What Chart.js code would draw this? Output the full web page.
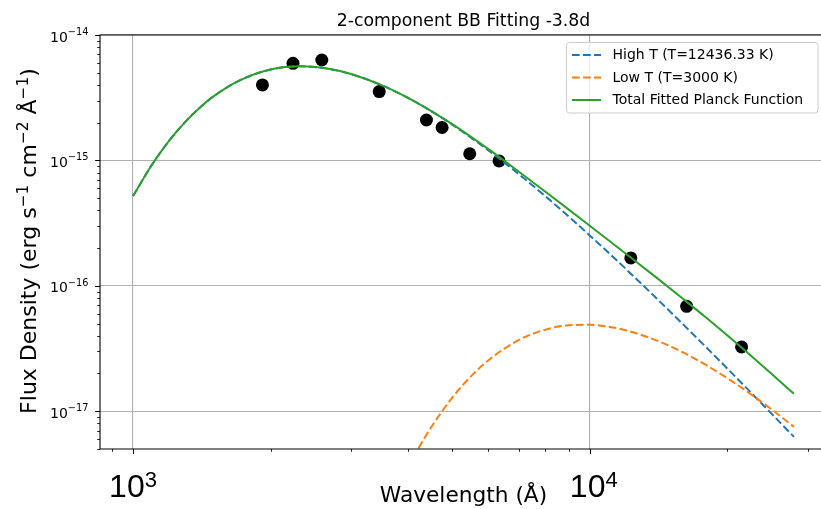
<!DOCTYPE html>
<html>
<head>
<meta charset="utf-8">
<script src="https://cdn.jsdelivr.net/npm/chart.js@4.4.1/dist/chart.umd.min.js"></script>
<style>
  html, body { margin: 0; padding: 0; background: #fff; overflow: hidden; }
  #wrap { width: 821px; height: 509px; overflow: hidden; }
  #c { display: block; }
</style>
</head>
<body>
<div id="wrap"><canvas id="c" width="850" height="509"></canvas></div>
<script>
// ---------------- data ----------------
const chartTitle = "2-component BB Fitting -3.8d";
const xAxisTitle = "Wavelength (Å)";
const yAxisTitleParts = [["Flux Density (erg s", ""], ["−1", "sup"], [" cm", ""], ["−2", "sup"], [" Å", ""], ["−1", "sup"], [")", ""]];

const highLabel = "High T (T=12436.33 K)";
const lowLabel = "Low T (T=3000 K)";
const totalLabel = "Total Fitted Planck Function";

// observed photometry
const obsWavelength = [1920, 2240, 2590, 3460, 4390, 4750, 5460, 6330, 12300, 16300, 21500];
const obsFlux = [4.0e-15, 5.95e-15, 6.32e-15, 3.54e-15, 2.10e-15, 1.83e-15, 1.13e-15, 9.9e-16, 1.67e-16, 6.87e-17, 3.26e-17];

// curve samples (wavelength, Å)
const curveWavelength = [1000, 1100, 1200, 1300, 1400, 1500, 1700, 2000, 2330, 2700, 3000, 3500, 4000, 4500, 5000, 6000, 7000, 8000, 9000, 10000, 12000, 14000, 16000, 18000, 20000, 22000, 25000, 28000];
const highTFlux = [5.20e-16, 9.24e-16, 1.437e-15, 2.021e-15, 2.635e-15, 3.238e-15, 4.295e-15, 5.30e-15, 5.624e-15, 5.353e-15, 4.888e-15, 3.986e-15, 3.152e-15, 2.467e-15, 1.931e-15, 1.203e-15, 7.75e-16, 5.17e-16, 3.56e-16, 2.523e-16, 1.362e-16, 7.96e-17, 4.94e-17, 3.228e-17, 2.194e-17, 1.542e-17, 9.57e-18, 6.25e-18];
const totalFlux = [5.20e-16, 9.24e-16, 1.437e-15, 2.021e-15, 2.635e-15, 3.238e-15, 4.295e-15, 5.30e-15, 5.624e-15, 5.353e-15, 4.888e-15, 3.987e-15, 3.156e-15, 2.475e-15, 1.944e-15, 1.229e-15, 8.12e-16, 5.62e-16, 4.05e-16, 3.01e-16, 1.804e-16, 1.163e-16, 7.88e-17, 5.56e-17, 4.03e-17, 2.99e-17, 1.99e-17, 1.376e-17];

const lowWavelength = [4000, 4200, 4500, 5000, 5500, 6000, 7000, 8000, 9000, 10000, 11000, 12000, 14000, 16000, 18000, 20000, 22000, 25000, 28000];
const lowTFlux = [3.56e-18, 4.94e-18, 7.49e-18, 1.284e-17, 1.907e-17, 2.554e-17, 3.704e-17, 4.477e-17, 4.849e-17, 4.895e-17, 4.722e-17, 4.42e-17, 3.674e-17, 2.944e-17, 2.328e-17, 1.836e-17, 1.453e-17, 1.036e-17, 7.51e-18];

// axes
const xMin = 846.6, xMax = 33074;
const yMin = 5e-18, yMax = 1e-14;
const xTickValues = [1000, 10000];
const xTickExponents = ["3", "4"];
const xMinorTicks = [900, 2000, 3000, 4000, 5000, 6000, 7000, 8000, 9000, 20000, 30000];
const yTickValues = [1e-17, 1e-16, 1e-15, 1e-14];
const yTickExponents = ["−17", "−16", "−15", "−14"];
const yMinorMultipliers = [2, 3, 4, 5, 6, 7, 8, 9];
const yMinorDecades = [-18, -17, -16, -15];

// ---------------- chart ----------------
const pts = (xs, ys) => xs.map((x, i) => ({ x: x, y: ys[i] }));
const DASH = [7.7, 3.3];
const FONT = "'DejaVu Sans', sans-serif";
const AREA = { left: 100, top: 35, right: 827, bottom: 449 };

function drawPow(ctx, cx, align, baseY, expY, baseFont, expFont, exp) {
  ctx.font = baseFont;
  const wb = ctx.measureText("10").width;
  ctx.font = expFont;
  const we = ctx.measureText(exp).width;
  const total = wb + we;
  let x0 = align === "right" ? cx - total : cx - total / 2;
  ctx.textAlign = "left";
  ctx.textBaseline = "alphabetic";
  ctx.font = baseFont;
  ctx.fillText("10", x0, baseY);
  ctx.font = expFont;
  ctx.fillText(exp, x0 + wb, expY);
}

const refPlugin = {
  id: "ref",
  afterDraw(chart) {
    const ctx = chart.ctx, a = chart.chartArea;
    const xs = chart.scales.x, ys = chart.scales.y;
    ctx.save();
    ctx.fillStyle = "#000";
    ctx.strokeStyle = "#000";

    // spines
    ctx.lineWidth = 1.1;
    ctx.beginPath();
    ctx.moveTo(a.right, a.top); ctx.lineTo(a.left, a.top);
    ctx.lineTo(a.left, a.bottom); ctx.lineTo(a.right, a.bottom);
    ctx.moveTo(a.right, a.top); ctx.lineTo(a.right, a.bottom);
    ctx.stroke();

    // major ticks
    ctx.beginPath();
    xTickValues.forEach(v => {
      const px = Math.round(xs.getPixelForValue(v)) + 0.5;
      ctx.moveTo(px, a.bottom); ctx.lineTo(px, a.bottom + 4.9);
    });
    yTickValues.forEach(v => {
      const py = Math.round(ys.getPixelForValue(v)) + 0.5;
      ctx.moveTo(a.left, py); ctx.lineTo(a.left - 4.9, py);
    });
    ctx.stroke();
    // minor ticks
    ctx.lineWidth = 0.85;
    ctx.beginPath();
    xMinorTicks.forEach(v => {
      if (v < xMin || v > xMax) return;
      const px = Math.round(xs.getPixelForValue(v)) + 0.5;
      ctx.moveTo(px, a.bottom); ctx.lineTo(px, a.bottom + 2.8);
    });
    yMinorDecades.forEach(n => yMinorMultipliers.forEach(k => {
      const v = k * Math.pow(10, n);
      if (v < yMin || v > yMax) return;
      const py = Math.round(ys.getPixelForValue(v)) + 0.5;
      ctx.moveTo(a.left, py); ctx.lineTo(a.left - 2.8, py);
    }));
    ctx.stroke();

    // y tick labels
    yTickValues.forEach((v, i) => {
      const py = ys.getPixelForValue(v);
      drawPow(ctx, a.left - 11.5, "right", py + 6.5, py - 0.3, "14px " + FONT, "9.8px " + FONT, yTickExponents[i]);
    });
    // x tick labels
    xTickValues.forEach((v, i) => {
      const px = xs.getPixelForValue(v);
      drawPow(ctx, px + (i === 1 ? 4 : 0), "center", 497, 486.5, "32px 'Liberation Sans', Arial, sans-serif", "22px 'Liberation Sans', Arial, sans-serif", xTickExponents[i]);
    });

    // title
    ctx.font = "17.3px " + FONT;
    ctx.textAlign = "center";
    ctx.textBaseline = "alphabetic";
    ctx.fillText(chartTitle, (a.left + a.right) / 2, 26);

    // x axis title
    ctx.font = "21.7px " + FONT;
    ctx.fillText(xAxisTitle, (a.left + a.right) / 2, 502);

    // y axis title (rotated, with superscripts)
    ctx.save();
    ctx.translate(35.5, (a.top + a.bottom) / 2 - 1);
    ctx.rotate(-Math.PI / 2);
    const big = "22px " + FONT, small = "15.4px " + FONT;
    let tw = 0;
    yAxisTitleParts.forEach(p => { ctx.font = p[1] ? small : big; tw += ctx.measureText(p[0]).width; });
    let x = -tw / 2;
    ctx.textAlign = "left";
    yAxisTitleParts.forEach(p => {
      ctx.font = p[1] ? small : big;
      ctx.fillText(p[0], x, p[1] ? -8 : 0);
      x += ctx.measureText(p[0]).width;
    });
    ctx.restore();

    // legend
    const lx = 566.5, ly = 42.5, lw = 251.5, lh = 70.5;
    ctx.beginPath();
    ctx.roundRect(lx, ly, lw, lh, 3);
    ctx.fillStyle = "rgba(255,255,255,0.8)";
    ctx.fill();
    ctx.strokeStyle = "#cccccc";
    ctx.lineWidth = 1;
    ctx.stroke();
    [0, 1, 2].forEach((di, r) => {
      const ds = chart.data.datasets[di];
      const cy = 55 + r * 22.5;
      ctx.save();
      ctx.strokeStyle = ds.borderColor;
      ctx.lineWidth = ds.borderWidth;
      ctx.setLineDash(ds.borderDash || []);
      ctx.beginPath();
      ctx.moveTo(572, cy); ctx.lineTo(601, cy);
      ctx.stroke();
      ctx.restore();
      ctx.fillStyle = "#000";
      ctx.font = "14px " + FONT;
      ctx.textAlign = "left";
      ctx.textBaseline = "middle";
      ctx.fillText(ds.label, 612.5, cy + 0.5);
    });
    ctx.restore();
  }
};

const chart = new Chart(document.getElementById("c"), {
  type: "scatter",
  data: {
    datasets: [
      { label: highLabel, data: pts(curveWavelength, highTFlux), showLine: true, borderColor: "#1f77b4", borderWidth: 2, borderDash: DASH, pointRadius: 0, cubicInterpolationMode: "monotone", order: 2 },
      { label: lowLabel, data: pts(lowWavelength, lowTFlux), showLine: true, borderColor: "#ff7f0e", borderWidth: 2, borderDash: DASH, pointRadius: 0, cubicInterpolationMode: "monotone", order: 1 },
      { label: totalLabel, data: pts(curveWavelength, totalFlux), showLine: true, borderColor: "#2ca02c", borderWidth: 2, pointRadius: 0, cubicInterpolationMode: "monotone", order: 0 },
      { label: "Data", data: pts(obsWavelength, obsFlux), showLine: false, pointRadius: 6.5, pointBackgroundColor: "#000", pointBorderColor: "#000", pointBorderWidth: 0, order: 3 }
    ]
  },
  options: {
    responsive: false,
    animation: false,
    devicePixelRatio: 1,
    layout: { padding: { left: 100, top: 35, right: 16, bottom: 60 } },
    plugins: { legend: { display: false }, tooltip: { enabled: false }, title: { display: false } },
    scales: {
      x: {
        type: "logarithmic", min: xMin, max: xMax,
        afterBuildTicks: s => { s.ticks = xTickValues.map(v => ({ value: v })); },
        ticks: { display: false },
        grid: { color: "#b0b0b0", lineWidth: 1.1, drawTicks: false },
        border: { display: false },
        title: { display: false }
      },
      y: {
        type: "logarithmic", min: yMin, max: yMax,
        afterBuildTicks: s => { s.ticks = yTickValues.map(v => ({ value: v })); },
        ticks: { display: false },
        grid: { color: "#b0b0b0", lineWidth: 1.1, drawTicks: false },
        border: { display: false },
        title: { display: false }
      }
    }
  },
  plugins: [refPlugin]
});

// make the plot area land exactly where the reference has it
const pad = chart.options.layout.padding;
const ca = chart.chartArea;
pad.left = Math.max(0, pad.left + (AREA.left - ca.left));
pad.top = Math.max(0, pad.top + (AREA.top - ca.top));
pad.right = Math.max(0, pad.right + (ca.right - AREA.right));
pad.bottom = Math.max(0, pad.bottom + (ca.bottom - AREA.bottom));
chart.update();
</script>
</body>
</html>
